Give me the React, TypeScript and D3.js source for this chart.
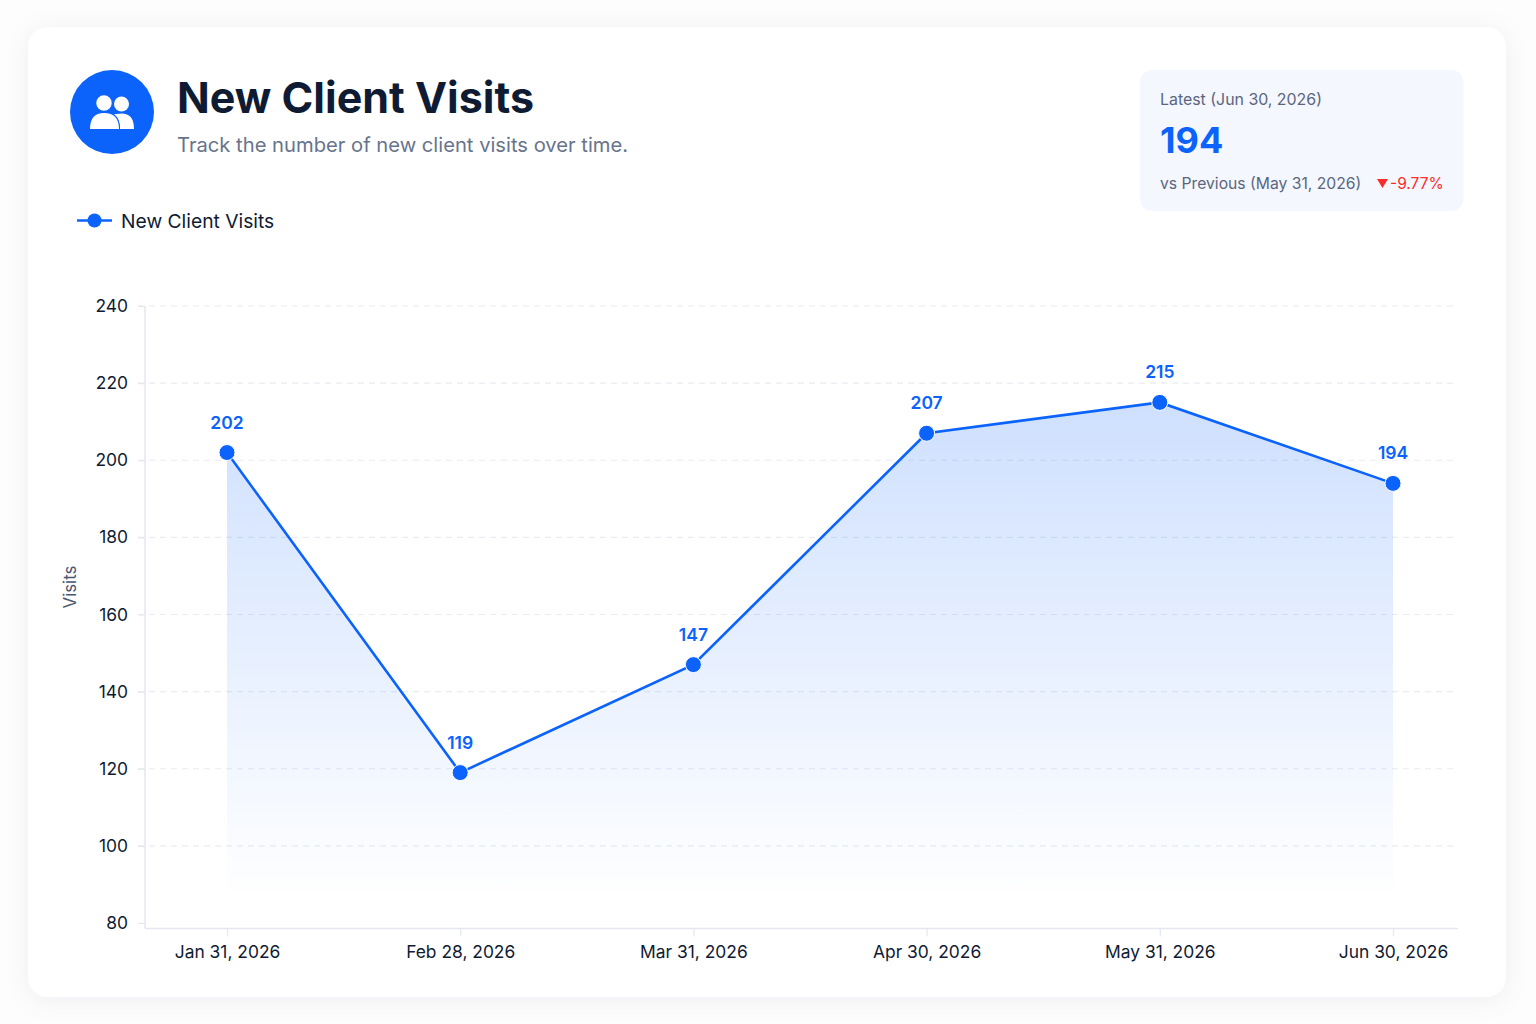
import React, { useEffect, useRef } from 'react';
import * as d3 from 'd3';

const months = ['Jan 31, 2026', 'Feb 28, 2026', 'Mar 31, 2026', 'Apr 30, 2026', 'May 31, 2026', 'Jun 30, 2026'];
const visits = [202, 119, 147, 207, 215, 194];
const yTicks = [80, 100, 120, 140, 160, 180, 200, 220, 240];

const BLUE = '#0b63fb';
const INK = '#0f1b33';
const FONT = 'Inter, sans-serif';

export default function App() {
  const ref = useRef<SVGSVGElement>(null);

  useEffect(() => {
    if (!ref.current) return;
    const svg = d3.select(ref.current);
    svg.selectAll('*').remove();

    const width = 1536;
    const height = 1024;
    svg.attr('viewBox', `0 0 ${width} ${height}`).attr('font-family', FONT);

    const plot = { left: 145, right: 1458, top: 306, bottom: 928.5 };

    // ------- Defs -------
    const defs = svg.append('defs');
    const shadow = defs
      .append('filter')
      .attr('id', 'cardShadow')
      .attr('x', '-5%')
      .attr('y', '-5%')
      .attr('width', '110%')
      .attr('height', '110%');
    shadow
      .append('feDropShadow')
      .attr('dx', 0)
      .attr('dy', 3)
      .attr('stdDeviation', 12)
      .attr('flood-color', '#1a2b50')
      .attr('flood-opacity', 0.06);

    const grad = defs
      .append('linearGradient')
      .attr('id', 'areaFill')
      .attr('gradientUnits', 'userSpaceOnUse')
      .attr('x1', 0)
      .attr('x2', 0)
      .attr('y1', 400)
      .attr('y2', 900);
    grad.append('stop').attr('offset', 0).attr('stop-color', BLUE).attr('stop-opacity', 0.2);
    grad.append('stop').attr('offset', 1).attr('stop-color', BLUE).attr('stop-opacity', 0);

    // ------- Card -------
    svg.append('rect').attr('width', width).attr('height', height).attr('fill', '#fdfdfe');
    svg
      .append('rect')
      .attr('x', 28)
      .attr('y', 27)
      .attr('width', 1478)
      .attr('height', 970)
      .attr('rx', 20)
      .attr('fill', '#ffffff')
      .attr('filter', 'url(#cardShadow)');

    // ------- Header -------
    svg.append('circle').attr('cx', 112).attr('cy', 112).attr('r', 42).attr('fill', BLUE);
    const icon = svg.append('g').attr('fill', '#fff');
    icon.append('circle').attr('cx', 121.5).attr('cy', 104).attr('r', 7.5);
    icon.append('path').attr('d', 'M117 114 Q134 111 134 129 L120 129 Q120 119 114 114 Z');
    icon
      .append('circle')
      .attr('cx', 104)
      .attr('cy', 103)
      .attr('r', 8.5)
      .attr('stroke', BLUE)
      .attr('stroke-width', 1.5);
    icon
      .append('path')
      .attr('d', 'M90 129 Q90 113 104 113 Q119 113 119 129 Z')
      .attr('stroke', BLUE)
      .attr('stroke-width', 2)
      .attr('paint-order', 'stroke');

    svg
      .append('text')
      .attr('x', 177)
      .attr('y', 113)
      .attr('font-size', 43)
      .attr('font-weight', 700)
      .attr('fill', INK)
      .text('New Client Visits');
    svg
      .append('text')
      .attr('x', 177)
      .attr('y', 152)
      .attr('font-size', 20.2)
      .attr('fill', '#68748c')
      .text('Track the number of new client visits over time.');

    // ------- Latest box -------
    svg
      .append('rect')
      .attr('x', 1140)
      .attr('y', 70)
      .attr('width', 323.5)
      .attr('height', 141)
      .attr('rx', 12)
      .attr('fill', '#f4f7fe');
    svg
      .append('text')
      .attr('x', 1160)
      .attr('y', 105)
      .attr('font-size', 15.9)
      .attr('fill', '#5a6680')
      .text(`Latest (${months[5]})`);
    svg
      .append('text')
      .attr('x', 1160)
      .attr('y', 153)
      .attr('font-size', 36)
      .attr('font-weight', 700)
      .attr('fill', BLUE)
      .text(String(visits[5]));
    svg
      .append('text')
      .attr('x', 1160)
      .attr('y', 188.5)
      .attr('font-size', 15.7)
      .attr('fill', '#5a6680')
      .text(`vs Previous (${months[4]})`);
    svg.append('path').attr('d', 'M1377 179 L1388 179 L1382.5 188 Z').attr('fill', '#fb2c2c');
    svg
      .append('text')
      .attr('x', 1390)
      .attr('y', 188.5)
      .attr('font-size', 15.5)
      .attr('fill', '#fb2c2c')
      .text('-9.77%');

    // ------- Legend -------
    svg
      .append('line')
      .attr('x1', 77)
      .attr('x2', 112)
      .attr('y1', 220.5)
      .attr('y2', 220.5)
      .attr('stroke', BLUE)
      .attr('stroke-width', 2.5);
    svg.append('circle').attr('cx', 94.5).attr('cy', 220.5).attr('r', 7).attr('fill', BLUE);
    svg
      .append('text')
      .attr('x', 121)
      .attr('y', 227.5)
      .attr('font-size', 19.25)
      .attr('fill', INK)
      .text('New Client Visits');

    // ------- Scales -------
    const x = d3.scalePoint<string>().domain(months).range([227, 1393]);
    const y = d3.scaleLinear().domain([80, 240]).range([923, plot.top]);

    // ------- Grid -------
    svg
      .append('g')
      .selectAll('line')
      .data(yTicks.slice(1))
      .enter()
      .append('line')
      .attr('x1', 138)
      .attr('x2', plot.right)
      .attr('y1', (d) => y(d))
      .attr('y2', (d) => y(d))
      .attr('stroke', '#e9ecf3')
      .attr('stroke-width', 1.2)
      .attr('stroke-dasharray', '6 5');

    // ------- Area and line -------
    const points = months.map((m, i) => ({ m, v: visits[i] }));
    const area = d3
      .area<{ m: string; v: number }>()
      .x((d) => x(d.m)!)
      .y0(y(80))
      .y1((d) => y(d.v));
    svg.append('path').datum(points).attr('fill', 'url(#areaFill)').attr('d', area);

    const line = d3
      .line<{ m: string; v: number }>()
      .x((d) => x(d.m)!)
      .y((d) => y(d.v));
    svg
      .append('path')
      .datum(points)
      .attr('fill', 'none')
      .attr('stroke', BLUE)
      .attr('stroke-width', 2.6)
      .attr('d', line);

    // ------- Axes -------
    const axisY = svg
      .append('g')
      .attr('transform', `translate(${plot.left},0)`)
      .call(d3.axisLeft(y).tickValues(yTicks).tickSize(7).tickPadding(10));
    axisY.select('.domain').remove();
    axisY
      .append('line')
      .attr('y1', plot.top)
      .attr('y2', plot.bottom)
      .attr('stroke', '#e4e7f0')
      .attr('stroke-width', 1.5);

    const axisX = svg
      .append('g')
      .attr('transform', `translate(0,${plot.bottom})`)
      .call(d3.axisBottom(x).tickSize(8).tickPadding(9));
    axisX.select('.domain').remove();
    axisX
      .append('line')
      .attr('x1', plot.left)
      .attr('x2', plot.right)
      .attr('stroke', '#e4e7f0')
      .attr('stroke-width', 1.5);

    [axisY, axisX].forEach((a) => {
      a.selectAll('.tick line').attr('stroke', '#e4e7f0').attr('stroke-width', 1.2);
      a.selectAll('.tick text')
        .attr('font-family', FONT)
        .attr('font-size', 17.4)
        .attr('fill', INK);
    });

    svg
      .append('text')
      .attr('transform', 'translate(76,587) rotate(-90)')
      .attr('text-anchor', 'middle')
      .attr('font-size', 16.8)
      .attr('fill', '#4a5670')
      .text('Visits');

    // ------- Points and labels -------
    svg
      .selectAll('circle.pt')
      .data(points)
      .enter()
      .append('circle')
      .attr('class', 'pt')
      .attr('cx', (d) => x(d.m)!)
      .attr('cy', (d) => y(d.v))
      .attr('r', 8)
      .attr('fill', BLUE)
      .attr('stroke', '#fff')
      .attr('stroke-width', 1);

    svg
      .selectAll('text.val')
      .data(points)
      .enter()
      .append('text')
      .attr('class', 'val')
      .attr('x', (d) => x(d.m)!)
      .attr('y', (d) => y(d.v) - 24)
      .attr('text-anchor', 'middle')
      .attr('font-size', 17.5)
      .attr('font-weight', 600)
      .attr('fill', BLUE)
      .text((d) => d.v);
  }, []);

  return <svg ref={ref} width={1536} height={1024} style={{ position: 'absolute', left: 0, top: 0 }} />;
}
